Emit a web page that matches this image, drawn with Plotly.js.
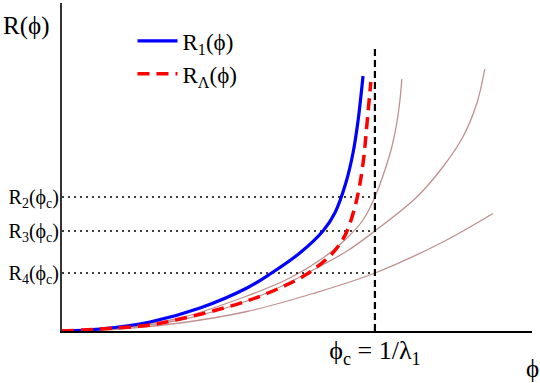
<!DOCTYPE html>
<html>
<head>
<meta charset="utf-8">
<script src="https://cdn.plot.ly/plotly-3.0.1.min.js"></script>
<style>
  html, body { margin: 0; padding: 0; background: #fff; }
  #chart { width: 540px; height: 383px; }
</style>
</head>
<body>
<div id="chart"></div>
<script>
// phi in units of phi_c (= 1/lambda_1), R in arbitrary units
const phiC = 1.0;
const rTop = 2.82;          // top of the phi_c marker

const phiBlue = [0, 0.121, 0.281, 0.441, 0.591, 0.665, 0.760, 0.834, 0.872, 0.907, 0.930, 0.946, 0.962];
const rBlue   = [0, 0.02, 0.09, 0.23, 0.43, 0.57, 0.78, 1.00, 1.18, 1.48, 1.78, 2.10, 2.55];

const phiRed = [0, 0.121, 0.281, 0.377, 0.482, 0.591, 0.696, 0.783, 0.856, 0.888, 0.911, 0.936, 0.952, 0.965, 0.974, 0.987];
const rRed   = [0, 0.02, 0.06, 0.12, 0.20, 0.30, 0.43, 0.57, 0.75, 0.87, 1.00, 1.24, 1.47, 1.75, 2.05, 2.49];

const phiR2 = [0, 0.185, 0.377, 0.591, 0.728, 0.834, 0.904, 0.962, 1.000, 1.032, 1.054, 1.070, 1.080, 1.086];
const rR2   = [0, 0.04, 0.13, 0.35, 0.53, 0.73, 0.91, 1.11, 1.34, 1.61, 1.84, 2.08, 2.31, 2.52];

const phiR3 = [0, 0.185, 0.377, 0.591, 0.696, 0.802, 0.911, 1.000, 1.134, 1.217, 1.281, 1.326, 1.351];
const rR3   = [0, 0.03, 0.11, 0.30, 0.44, 0.61, 0.80, 1.00, 1.34, 1.64, 1.94, 2.28, 2.62];

const phiR4 = [0, 0.185, 0.377, 0.591, 0.802, 1.000, 1.217, 1.377];
const rR4   = [0, 0.02, 0.08, 0.195, 0.375, 0.58, 0.89, 1.175];

// R_n(phi_c) levels and their labels
const levels      = [1.34, 1.00, 0.58];
const levelLabels = ["R<sub>2</sub>(ϕ<sub>c</sub>)", "R<sub>3</sub>(ϕ<sub>c</sub>)", "R<sub>4</sub>(ϕ<sub>c</sub>)"];
const phiCLabel   = "ϕ<sub>c</sub> = 1/λ<sub>1</sub>";

const FONT = "Liberation Serif, Times New Roman, serif";
const BROWN = "#c09090";

function brown(x, y) {
  return {
    type: "scatter", mode: "lines", x: x, y: y, showlegend: false, hoverinfo: "skip",
    line: { color: BROWN, width: 1.3, shape: "spline", smoothing: 1 },
  };
}

const traces = [
  brown(phiR2, rR2),
  brown(phiR3, rR3),
  brown(phiR4, rR4),
  // dotted guides from the axis to phi_c
  ...levels.map(v => ({
    type: "scatter", mode: "lines", x: [0, phiC], y: [v, v], showlegend: false, hoverinfo: "skip",
    line: { color: "#000", width: 1.5, dash: "2px,4px" },
  })),
  {
    type: "scatter", mode: "lines", x: [phiC, phiC], y: [0, rTop], showlegend: false, hoverinfo: "skip",
    line: { color: "#000", width: 2.2, dash: "7px,4px" },
  },
  {
    type: "scatter", mode: "lines", name: "R<sub>1</sub>(ϕ)", x: phiBlue, y: rBlue,
    line: { color: "#0000ff", width: 3.2, shape: "spline", smoothing: 1 },
  },
  {
    type: "scatter", mode: "lines", name: "R<sub>Λ</sub>(ϕ)", x: phiRed, y: rRed,
    line: { color: "#ff0000", width: 3.5, dash: "12px,7px", shape: "spline", smoothing: 1 },
  },
];

const layout = {
  width: 540, height: 383,
  margin: { l: 62, r: 8, t: 3, b: 52 },
  paper_bgcolor: "#fff", plot_bgcolor: "#fff",
  font: { family: FONT, size: 20, color: "#000" },
  showlegend: true,
  legend: {
    x: 0.15, y: 0.95, xanchor: "left", yanchor: "top",
    bgcolor: "rgba(0,0,0,0)", font: { size: 23 }, tracegroupgap: 0, itemwidth: 40,
  },
  xaxis: {
    range: [0, 1.502], showgrid: false, zeroline: false,
    showline: true, linecolor: "#000", linewidth: 2,
    tickvals: [phiC], ticktext: [phiCLabel], ticks: "",
    tickfont: { size: 26 }, ticklabelstandoff: -5,
  },
  yaxis: {
    range: [0, 3.28], showgrid: false, zeroline: false,
    showline: true, linecolor: "#333", linewidth: 2,
    tickvals: levels, ticktext: levelLabels, ticks: "",
    tickfont: { size: 20 }, ticklabelstandoff: -3,
  },
  annotations: [
    { xref: "paper", yref: "paper", x: -0.13, y: 0.93, xanchor: "left", yanchor: "middle",
      text: "R(ϕ)", showarrow: false, font: { size: 25 } },
    { xref: "paper", yref: "paper", x: 1.0, y: -0.113, xanchor: "center", yanchor: "middle",
      text: "ϕ", showarrow: false, font: { size: 25 } },
  ],
};

Plotly.newPlot("chart", traces, layout, { displayModeBar: false, staticPlot: true });
</script>
</body>
</html>
